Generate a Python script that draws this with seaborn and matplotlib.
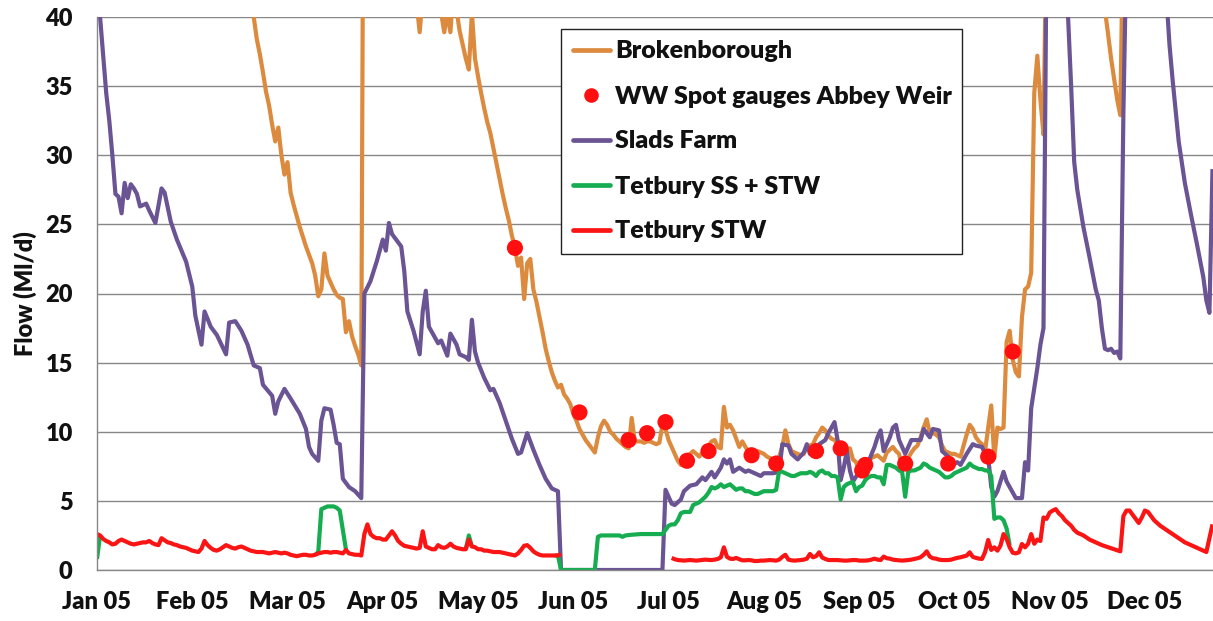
import numpy as np
import pandas as pd
import matplotlib
matplotlib.use("Agg")
import matplotlib.pyplot as plt
from matplotlib.lines import Line2D
import seaborn as sns

# ---------------------------------------------------------------------------
# Daily flows, 2005 (day 0 = 1 Jan). Values above 40 Ml/d run off the top
# of the chart; NaN marks a break in a record.
# ---------------------------------------------------------------------------
month_labels = ["Jan 05", "Feb 05", "Mar 05", "Apr 05", "May 05", "Jun 05",
                "Jul 05", "Aug 05", "Sep 05", "Oct 05", "Nov 05", "Dec 05"]
y_ticks = [0, 5, 10, 15, 20, 25, 30, 35, 40]

# Brokenborough
brok_day = [0, 12, 25, 38, 46, 49, 51, 52, 53, 54, 55, 56, 57, 58, 59, 60, 61, 62, 63, 64,
            65, 66, 67, 68, 69, 70, 71, 72, 73, 74, 75, 76, 77, 78, 79, 80, 81, 82, 83, 84,
            85, 86, 87, 90, 96, 101, 103, 104, 105, 106, 110, 113, 114, 115, 116, 117, 118, 119, 120, 121,
            122, 123, 124, 125, 126, 127, 128, 129, 130, 131, 132, 133, 134, 135, 136, 137, 138, 139, 140, 141,
            142, 143, 144, 145, 146, 147, 148, 149, 150, 151, 152, 153, 154, 155, 156, 157, 158, 159, 160, 161,
            162, 163, 164, 165, 166, 167, 168, 169, 170, 171, 172, 173, 174, 175, 176, 177, 178, 179, 180, 181,
            182, 183, 184, 185, 186, 187, 188, 189, 190, 191, 192, 193, 194, 195, 196, 197, 198, 199, 200, 201,
            202, 203, 204, 205, 206, 207, 208, 209, 210, 211, 212, 213, 214, 215, 216, 217, 218, 219, 220, 221,
            222, 223, 224, 225, 226, 227, 228, 229, 230, 231, 232, 233, 234, 235, 236, 237, 238, 239, 240, 241,
            242, 243, 244, 245, 246, 247, 248, 249, 250, 251, 252, 253, 254, 255, 256, 257, 258, 259, 260, 261,
            262, 263, 264, 265, 266, 267, 268, 269, 270, 271, 272, 273, 274, 275, 276, 277, 278, 279, 280, 281,
            282, 283, 284, 285, 286, 287, 288, 289, 290, 291, 292, 293, 294, 295, 296, 297, 298, 299, 300, 301,
            302, 303, 304, 305, 306, 307, 308, 309, 315, 322, 327, 328, 329, 330, 331, 332, 333, 334,
            340, 350, 358, 362, 363]
brok_flow = [75, 66, 58, 50, 45, 42.5, 40, 38.4, 37.3, 36.0, 34.6, 33.6, 32.2, 31.0, 32.0, 30.0, 28.6, 29.5, 27.3, 26.4,
             25.6, 24.8, 24.1, 23.4, 22.8, 22.2, 21.3, 19.8, 20.3, 22.9, 21.3, 20.8, 20.3, 19.9, 19.7, 19.6, 17.2, 18.0, 16.9, 16.2,
             15.6, 14.8, 70, 62, 55, 47, 44, 41, 38.9, 41.5, 43, 38.9, 40.3, 38.9, 42, 40.5, 39.0, 38.0, 37.0, 36.2,
             40.3, 37.0, 35.7, 34.5, 33.4, 32.4, 31.6, 30.5, 29.4, 28.3, 27.2, 26.2, 25.3, 24.2, 23.3, 22.0, 22.6, 19.6, 22.2, 22.5,
             20.3, 19.4, 18.3, 17.2, 16.0, 15.1, 14.3, 13.7, 13.2, 13.4, 12.7, 12.4, 12.0, 11.3, 10.8, 10.2, 9.8, 9.4, 9.1, 8.8,
             8.5, 9.6, 10.4, 10.8, 10.5, 10.0, 9.8, 9.5, 9.3, 9.1, 8.9, 8.8, 11.0, 9.3, 9.3, 9.3, 9.2, 9.3, 9.3, 9.2,
             9.1, 9.2, 10.5, 10.2, 9.4, 8.9, 8.4, 7.9, 7.6, 8.0, 8.3, 8.4, 8.6, 8.4, 8.2, 8.5, 8.7, 9.0, 9.3, 9.4,
             8.9, 8.8, 11.8, 10.3, 10.5, 10.1, 9.5, 8.9, 9.3, 8.9, 8.6, 8.3, 8.5, 8.6, 8.5, 8.4, 8.2, 8.1, 8.0, 7.7,
             8.2, 8.9, 10.1, 9.1, 8.6, 8.5, 8.4, 8.3, 8.4, 8.9, 9.0, 9.1, 9.6, 9.9, 10.3, 10.1, 9.7, 9.5, 9.4, 9.1,
             9.0, 8.6, 8.7, 8.8, 8.0, 7.8, 7.2, 7.3, 7.6, 7.8, 8.1, 8.2, 8.3, 8.1, 7.9, 8.5, 8.7, 8.9, 8.6, 8.4,
             7.4, 7.8, 8.1, 8.5, 8.8, 9.0, 9.6, 10.3, 10.9, 9.9, 9.9, 9.8, 9.6, 9.0, 8.6, 8.5, 8.4, 8.4, 8.3, 8.2,
             9.0, 9.8, 10.5, 10.2, 9.6, 9.3, 9.1, 8.6, 10.3, 11.9, 8.1, 10.3, 10.2, 10.3, 16.5, 17.3, 15.2, 14.3, 14.0, 18.3,
             20.3, 20.5, 21.5, 34.5, 37.2, 34.0, 31.5, 47, 60, 55, 44, 40.5, 38.8, 37.0, 35.5, 34.0, 32.9, 48,
             55, 52, 46, 40.3, 41]

# WW spot gauges, Abbey Weir
spot_day = [136, 157, 173, 179, 185, 192, 199, 213, 221, 234, 242, 249, 250, 263, 277, 290, 298]
spot_flow = [23.3, 11.4, 9.4, 9.9, 10.7, 7.9, 8.6, 8.3, 7.7, 8.6, 8.8, 7.2, 7.6, 7.7, 7.7, 8.2, 15.8]

# Slads Farm
slads_day = [0, 1, 3, 4, 5, 6, 7, 8, 9, 10, 11, 12, 13, 14, 16, 17, 19, 21, 22, 24,
             26, 29, 31, 32, 34, 35, 37, 39, 42, 43, 45, 47, 49, 51, 53, 54, 57, 58, 59, 61,
             63, 66, 68, 69, 70, 72, 73, 74, 76, 77, 78, 79, 80, 82, 84, 86, 87, 89, 91, 93,
             94, 95, 96, 97, 99, 100, 101, 103, 105, 106, 107, 108, 110, 111, 112, 114, 115, 117, 118, 120,
             121, 122, 123, 124, 126, 128, 129, 131, 133, 135, 137, 138, 139, 140, 142, 144, 146, 148, 150, 151,
             184, 185, 186, 187, 188, 190, 191, 193, 195, 197, 198, 200, 201, 203, 204, 205, 206, 207, 209, 211,
             212, 214, 216, 217, 220, 222, 223, 225, 226, 228, 230, 231, 232, 234, 235, 237, 238, 240, 241, 242,
             243, 244, 245, 246, 248, 250, 251, 253, 254, 255, 256, 258, 259, 260, 261, 263, 265, 266, 268, 269,
             271, 272, 274, 275, 277, 279, 280, 281, 283, 285, 286, 288, 289, 290, 291, 292, 293, 295, 296, 298,
             299, 301, 302, 303, 304, 306, 307, 308, 309, 310, 314, 315, 316, 317, 318, 319, 321, 323, 325, 326,
             327, 328, 329, 330, 331, 332, 333, 334, 335, 347, 348, 349, 350, 352, 354, 356, 358, 360, 361, 362,
             363]
slads_flow = [44, 40, 34.5, 32.5, 30.0, 27.2, 27.0, 25.8, 28.0, 26.9, 27.9, 27.6, 27.2, 26.3, 26.5, 26.0, 25.1, 27.6, 27.3, 25.2,
              23.9, 22.3, 20.5, 18.4, 16.3, 18.7, 17.6, 17.0, 15.6, 17.9, 18.0, 17.3, 16.3, 14.8, 14.6, 13.4, 12.6, 11.3, 12.2, 13.1,
              12.4, 11.3, 10.2, 8.9, 8.4, 7.9, 10.8, 11.7, 11.6, 10.5, 9.2, 9.1, 6.6, 6.0, 5.7, 5.2, 20.0, 20.9, 22.3, 23.9,
              23.1, 25.1, 24.3, 24.0, 23.4, 21.6, 18.7, 17.3, 15.6, 18.7, 20.2, 17.6, 16.8, 16.4, 16.6, 15.5, 17.1, 16.3, 15.6, 15.4,
              15.2, 18.1, 15.8, 15.0, 13.9, 13.0, 13.1, 12.1, 10.8, 9.5, 8.4, 8.5, 9.2, 9.9, 8.7, 7.6, 6.6, 5.9, 5.7, 0.0,
              0.0, 5.8, 5.3, 4.8, 4.7, 5.1, 5.7, 6.1, 6.2, 6.7, 6.5, 7.1, 6.7, 7.4, 8.0, 7.7, 8.0, 7.1, 7.4, 7.1,
              7.2, 7.0, 6.8, 7.0, 7.0, 7.1, 9.1, 9.0, 8.4, 8.0, 8.5, 9.1, 8.4, 8.4, 9.1, 9.4, 9.9, 10.7, 9.4, 6.5,
              7.4, 8.6, 7.2, 6.4, 7.1, 7.7, 7.8, 8.9, 9.6, 10.1, 8.6, 9.6, 10.3, 10.5, 9.4, 8.4, 9.4, 9.4, 9.4, 10.2,
              9.6, 10.2, 10.1, 8.6, 8.2, 7.7, 7.8, 7.6, 8.4, 9.1, 9.0, 8.9, 8.4, 8.2, 6.0, 5.3, 5.7, 7.1, 6.4, 5.6,
              5.2, 5.2, 7.8, 7.2, 11.7, 14.6, 16.3, 17.5, 45, 55, 55, 46, 40, 35, 29.5, 27.5, 24.8, 22.6, 20.3, 19.5,
              17.5, 16.0, 15.9, 16.0, 15.7, 15.8, 15.3, 33, 45, 55, 41.5, 38, 35.5, 31, 28, 25.7, 23.5, 21.2, 19.5, 18.6,
              29.0]

# Tetbury SS + STW (runs shown where it separates from the STW record)
ss_day = [0, 1, np.nan,
          71, 72, 73, 74, 75, 76, 77, 78, 79, 80, 81, np.nan,
          120, 121, 122, np.nan,
          149, 150, 151, 162, 163, 164, 170, 171, 172, 174, 177, 181, 184, 185, 186, 187, 188, 189, 190,
          191, 193, 194, 195, 196, 197, 198, 199, 200, 201, 202, 203, 204, 205, 206, 207, 208, 209, 210,
          211, 212, 213, 214, 215, 216, 217, 218, 219, 220, 221, 222, 223, 224, 225, 226, 227, 228, 229,
          230, 231, 232, 233, 234, 235, 236, 237, 238, 239, 240, 241, 242, 243, 244, 245, 246, 247, 248,
          249, 250, 251, 252, 253, 254, 255, 256, 257, 258, 259, 260, 261, 262, 263, 264, 265, 266, 267,
          268, 269, 270, 271, 272, 273, 274, 275, 276, 277, 278, 279, 280, 281, 282, 283, 284, 285, 286,
          287, 288, 289, 290, 291, 292, 293, 294, 295, 296, 297]
ss_flow = [0.8, 2.5, np.nan,
           1.1, 1.3, 4.4, 4.5, 4.6, 4.6, 4.6, 4.5, 4.3, 2.9, 1.5, np.nan,
           1.5, 2.5, 1.7, np.nan,
           1.05, 1.05, 0.0, 0.0, 2.4, 2.5, 2.5, 2.4, 2.5, 2.55, 2.6, 2.6, 2.6, 2.9, 3.2, 3.3, 3.3, 3.6, 4.1,
           4.2, 4.2, 4.7, 4.8, 4.9, 5.1, 5.3, 5.6, 6.0, 5.9, 6.0, 6.2, 6.0, 6.1, 6.2, 6.0, 5.8, 5.9, 5.9,
           5.7, 5.7, 5.6, 5.5, 5.5, 5.6, 5.7, 5.7, 5.7, 5.7, 5.8, 7.2, 7.1, 7.0, 6.9, 6.8, 6.8, 6.9, 7.0,
           7.0, 7.0, 7.1, 7.0, 6.8, 7.1, 7.2, 7.0, 7.0, 6.8, 6.8, 6.7, 5.1, 6.0, 6.2, 6.3, 6.35, 5.7, 6.0,
           6.1, 6.5, 6.7, 6.8, 6.8, 6.7, 6.7, 6.2, 7.6, 7.6, 7.5, 7.4, 7.2, 7.1, 5.3, 7.1, 7.2, 7.2, 7.3,
           7.4, 7.7, 7.6, 7.4, 7.3, 7.2, 7.1, 6.9, 6.7, 6.7, 6.8, 7.0, 7.1, 7.2, 7.3, 7.4, 7.7, 7.5, 7.4,
           7.3, 7.3, 7.2, 7.2, 6.8, 3.7, 3.8, 3.8, 3.6, 3.0, 1.8]

# Tetbury STW
stw_day = list(range(0, 152)) + [np.nan] + list(range(187, 322)) + \
          [323, 325, 327, 329, 331, 333, 334, 335, 336, 337, 338, 339, 340, 341, 342, 343, 344,
           346, 348, 350, 352, 354, 356, 358, 360, 361, 362, 363]
stw_flow = [2.6, 2.5, 2.25, 2.1, 2.0, 1.85, 1.9, 2.1, 2.2, 2.1, 2.0, 1.9, 1.85, 1.9, 1.95, 2.0, 2.0, 2.1, 1.95, 1.85,
            1.8, 2.3, 2.15, 2.0, 1.95, 1.85, 1.8, 1.7, 1.65, 1.6, 1.5, 1.4, 1.35, 1.3, 1.55, 2.1, 1.8, 1.6, 1.45, 1.4,
            1.5, 1.65, 1.8, 1.7, 1.6, 1.55, 1.65, 1.7, 1.6, 1.5, 1.4, 1.35, 1.3, 1.3, 1.3, 1.25, 1.2, 1.25, 1.3, 1.25,
            1.2, 1.25, 1.2, 1.1, 1.05, 1.0, 1.05, 1.1, 1.1, 1.05, 1.05, 1.1, 1.2, 1.25, 1.3, 1.3, 1.25, 1.3, 1.3, 1.25,
            1.2, 1.45, 1.2, 1.15, 1.1, 1.1, 1.05, 2.6, 3.3, 2.6, 2.4, 2.3, 2.3, 2.2, 2.2, 2.5, 2.8, 2.5, 2.1, 1.9,
            1.75, 1.7, 1.65, 1.6, 1.55, 1.6, 2.8, 1.7, 1.6, 1.5, 1.5, 1.8, 1.65, 1.6, 1.7, 1.9, 1.7, 1.6, 1.55, 1.5,
            1.5, 2.2, 1.7, 1.65, 1.5, 1.5, 1.4, 1.4, 1.35, 1.3, 1.3, 1.3, 1.25, 1.2, 1.15, 1.1, 1.05, 1.2, 1.45, 1.75,
            1.8, 1.6, 1.35, 1.2, 1.1, 1.05, 1.05, 1.05, 1.05, 1.05, 1.05, 1.15,
            np.nan,
            0.87, 0.78, 0.72, 0.7, 0.68, 0.7, 0.72, 0.7, 0.68, 0.7, 0.73, 0.75, 0.73, 0.72, 0.75, 0.8, 0.92, 1.64, 0.95, 0.82,
            0.8, 0.87, 0.78, 0.7, 0.7, 0.72, 0.7, 0.65, 0.65, 0.68, 0.68, 0.7, 0.72, 0.7, 0.68, 0.75, 0.95, 1.1, 0.75, 0.7,
            0.68, 0.7, 0.72, 0.75, 0.82, 1.16, 0.92, 1.0, 1.28, 0.9, 0.8, 0.72, 0.72, 0.72, 0.72, 0.7, 0.68, 0.68, 0.7, 0.72,
            0.72, 0.68, 0.68, 0.68, 0.7, 0.75, 0.82, 0.75, 0.72, 0.97, 0.85, 0.82, 0.75, 0.72, 0.7, 0.68, 0.7, 0.72, 0.75, 0.8,
            0.85, 0.92, 1.1, 1.35, 0.97, 0.85, 0.82, 0.75, 0.72, 0.72, 0.72, 0.75, 0.82, 0.88, 0.92, 0.98, 1.04, 1.28, 0.95, 0.88,
            0.82, 0.8, 1.3, 2.17, 1.45, 1.64, 1.4, 1.76, 2.6, 2.25, 1.64, 1.25, 1.2, 1.28, 1.88, 1.64, 1.9, 2.6, 1.9, 2.2,
            2.1, 3.8, 3.7, 4.15, 4.3, 4.4, 4.1, 3.9, 3.6, 3.4, 3.2, 2.9, 2.7, 2.6, 2.5,
            2.2, 2.0, 1.8, 1.65, 1.5, 1.35, 3.9, 4.3, 4.3, 4.0, 3.7, 3.4, 3.8, 4.3, 4.2, 3.9, 3.6,
            3.2, 2.9, 2.6, 2.3, 2.0, 1.8, 1.6, 1.4, 1.3, 2.3, 3.3]

# ---------------------------------------------------------------------------
series_names = ["Brokenborough", "WW Spot gauges Abbey Weir", "Slads Farm",
                "Tetbury SS + STW", "Tetbury STW"]
colors = {"Brokenborough": "#DC8A3E",
          "WW Spot gauges Abbey Weir": "#FF0F0F",
          "Slads Farm": "#6A5494",
          "Tetbury SS + STW": "#16AD50",
          "Tetbury STW": "#FA1414"}


def as_runs(days, flows, name):
    """Long-form frame; a NaN entry starts a new run so gaps stay open."""
    d = np.asarray(days, dtype=float)
    f = np.asarray(flows, dtype=float)
    run = np.cumsum(np.isnan(d))
    frame = pd.DataFrame({"day": d, "flow": f, "run": run, "series": name})
    return frame.dropna()


lines = pd.concat([
    as_runs(brok_day, brok_flow, "Brokenborough"),
    as_runs(slads_day, slads_flow, "Slads Farm"),
    as_runs(ss_day, ss_flow, "Tetbury SS + STW"),
    as_runs(stw_day, stw_flow, "Tetbury STW"),
], ignore_index=True)
spots = pd.DataFrame({"day": spot_day, "flow": spot_flow})

sns.set_theme(style="white")
FONT = ["Lato", "DejaVu Sans"]
WEIGHT = "heavy"
plt.rcParams["font.family"] = FONT
plt.rcParams["font.weight"] = WEIGHT

W, H = 1213, 621
fig = plt.figure(figsize=(W / 100, H / 100), dpi=100)
ax = fig.add_axes([97 / W, 51 / H, (W - 97) / W, (570 - 17) / H])

LW = 3.0
for name in ["Brokenborough", "Slads Farm", "Tetbury SS + STW", "Tetbury STW"]:
    sub = lines[lines["series"] == name]
    sns.lineplot(data=sub, x="day", y="flow", units="run", estimator=None,
                 sort=False, color=colors[name], linewidth=LW, legend=False,
                 ax=ax, solid_joinstyle="round", solid_capstyle="butt")

sns.scatterplot(data=spots, x="day", y="flow", color=colors["WW Spot gauges Abbey Weir"],
                s=135, edgecolor="none", linewidth=0, zorder=5, legend=False, ax=ax)

# axes styling
GRID = "#878787"
TEXT = "#111111"
ax.set_xlim(0, (W - 97) / 3.073)
ax.set_ylim(0, 40)
ax.set_xticks([31 * i for i in range(len(month_labels))])
ax.set_xticklabels(month_labels)
ax.set_yticks(y_ticks)
ax.set_yticklabels([str(v) for v in y_ticks])
ax.yaxis.grid(True, color=GRID, linewidth=1.0)
ax.xaxis.grid(False)
ax.set_axisbelow(True)
for side in ["top", "right"]:
    ax.spines[side].set_visible(False)
for side in ["left", "bottom"]:
    ax.spines[side].set_color(GRID)
    ax.spines[side].set_linewidth(1.0)
ax.tick_params(axis="x", direction="out", length=6, width=1.0, color=GRID,
               pad=9, labelsize=17, labelcolor=TEXT)
ax.tick_params(axis="y", direction="out", length=6.5, width=1.0, color=GRID,
               pad=11, labelsize=17, labelcolor=TEXT)
for lab in ax.get_xticklabels() + ax.get_yticklabels():
    lab.set_fontweight(WEIGHT)
ax.set_xlabel("")
ax.set_ylabel("Flow (Ml/d)", fontsize=17, fontweight=WEIGHT, color=TEXT, labelpad=6)

# legend
handles = []
for name in series_names:
    if name.startswith("WW"):
        handles.append(Line2D([], [], linestyle="none", marker="o", markersize=10.5,
                              markerfacecolor=colors[name], markeredgecolor="none"))
    else:
        handles.append(Line2D([], [], color=colors[name], linewidth=3.4))
leg = ax.legend(handles, series_names, loc="upper left",
                bbox_to_anchor=(561 / W, 1 - 29 / H, (962 - 561) / W, 0.0),
                bbox_transform=fig.transFigure, mode="expand", borderaxespad=0,
                prop={"family": FONT, "weight": WEIGHT, "size": 18},
                frameon=True, fancybox=False, edgecolor="#222222", framealpha=1.0,
                handlelength=1.5, handletextpad=0.2, labelspacing=0.92, borderpad=0.46)
leg.get_frame().set_linewidth(1.0)
for txt in leg.get_texts():
    txt.set_color(TEXT)

fig.savefig("out.png", dpi=100)
